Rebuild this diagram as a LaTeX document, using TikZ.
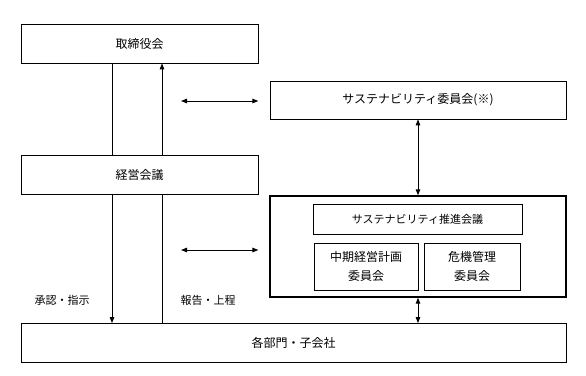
\documentclass[tikz,border=0pt]{standalone}
\usepackage{fontspec}
\setmainfont{Noto Sans CJK JP}
\usetikzlibrary{arrows.meta, positioning, calc}

\begin{document}
\begin{tikzpicture}[
  x=1pt, y=-1pt,
  >={Triangle[length=6pt,width=4.5pt]},
  orgbox/.style={draw, line width=0.8pt, minimum width=237pt, minimum height=39pt, inner sep=0pt, align=center, font=\fontsize{12}{18}\selectfont},
  subbox/.style={draw, line width=0.8pt, inner sep=0pt, align=center, font=\fontsize{12}{19}\selectfont},
  flowlabel/.style={font=\fontsize{11}{13}\selectfont},
  link/.style={line width=1pt},
]
\useasboundingbox (0,0) rectangle (586,375);

% Left column
\node[orgbox] (board) at (139.5,43.5) {取締役会};
\node[orgbox] (mgmt) at (139.5,174.5) {経営会議};
\node[orgbox, minimum width=545pt] (depts) at (293.5,343) {各部門・子会社};

% Right column
\node[subbox, minimum width=296pt, minimum height=38pt] (susc) at (418,100) {サステナビリティ委員会(※)};
\node[draw, line width=1.4pt, minimum width=296pt, minimum height=101pt] (group) at (418,246.5) {};
\node[subbox, minimum width=209pt, minimum height=30pt, font=\fontsize{11}{13}\selectfont] (promo) at (417.5,219) {サステナビリティ推進会議};
\node[subbox, minimum width=104pt, minimum height=47pt] (midplan) at (366,266.5) {中期経営計画\\委員会};
\node[subbox, minimum width=96pt, minimum height=47pt] (risk) at (472,266.5) {危機管理\\委員会};

% Vertical flows
\coordinate (down) at (112,0);
\coordinate (up) at (162,0);
\draw[link] (board.south -| down) -- (mgmt.north -| down);
\draw[link, ->] (mgmt.north -| up) -- (board.south -| up);
\draw[link, ->] (mgmt.south -| down) -- (depts.north -| down);
\draw[link] (mgmt.south -| up) -- (depts.north -| up);

% Exchange arrows
\coordinate (h1) at (181,101);
\coordinate (h2) at (181,250);
\draw[link, <->] (h1) -- (h1 -| board.east);
\draw[link, <->] (h2) -- (h2 -| mgmt.east);
\draw[link, <->] (susc.south) -- (group.north);
\draw[link, <->] (group.south) -- (group.south |- depts.north);

% Flow labels
\node[flowlabel] (approve) at (62,300) {承認・指示};
\node[flowlabel] (report) at (208,300) {報告・上程};

\end{tikzpicture}
\end{document}
